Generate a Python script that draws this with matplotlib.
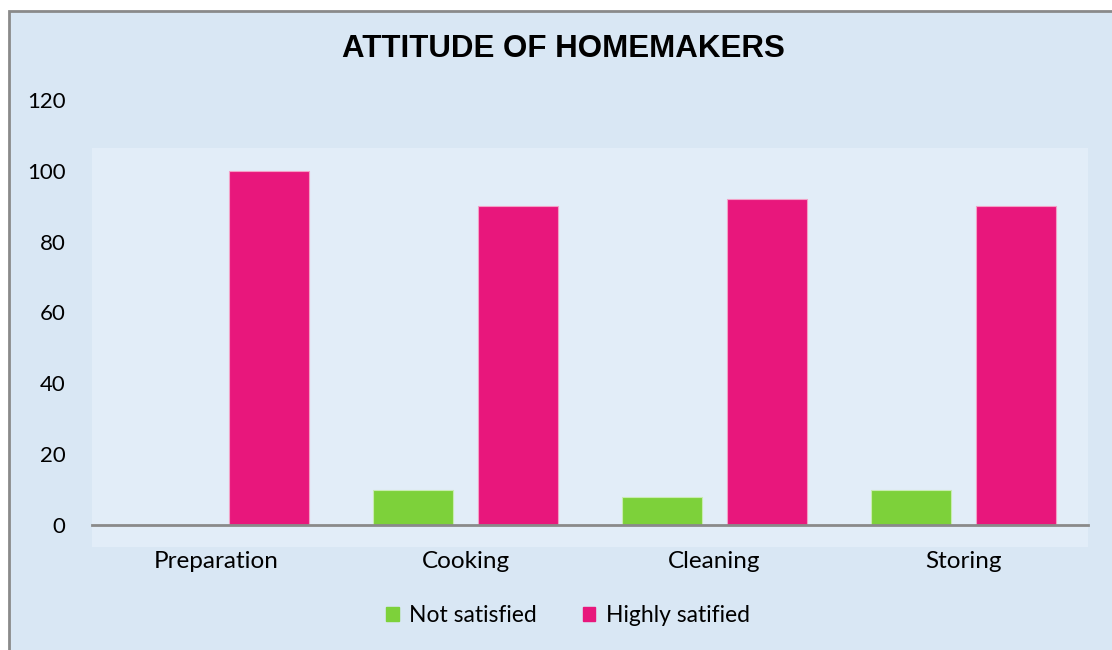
import matplotlib.pyplot as plt
import matplotlib.patches as mpatches
import numpy as np

categories = ["Preparation", "Cooking", "Cleaning", "Storing"]
not_satisfied = [0, 10, 8, 10]
highly_satisfied = [100, 90, 92, 90]
series_names = ["Not satisfied", "Highly satified"]
yticks = [0, 20, 40, 60, 80, 100, 120]

green = "#7DD13A"
pink = "#E8177C"
bg = "#d9e7f4"

plt.rcParams["font.family"] = ["Lato", "DejaVu Sans"]

fig = plt.figure(figsize=(11.12, 6.5), dpi=100)
fig.patch.set_facecolor("white")

# outer chart area with a grey frame on the left/top
W, H = 1112, 650
frame = mpatches.Rectangle((8.5 / W, -0.02), 1.1, (H - 11) / H + 0.02,
                           transform=fig.transFigure, facecolor=bg,
                           edgecolor="#8a8a8a", linewidth=2, zorder=-2)
fig.patches.append(frame)
# slightly lighter plot area
inner = mpatches.Rectangle((92 / W, (H - 547) / H), (1088 - 92) / W, (547 - 148) / H,
                           transform=fig.transFigure, facecolor="#e2edf8",
                           edgecolor="none", zorder=-1)
fig.patches.append(inner)

ax = fig.add_axes([92 / W, 125 / H, (1088 - 92) / W, 425 / H])
ax.set_zorder(1)
ax.set_facecolor("none")

x = np.arange(len(categories))
w = 0.32
off = 0.21
ax.bar(x - off, not_satisfied, w, color=green, edgecolor="#c8ecb0",
       linewidth=0.8, label=series_names[0], zorder=3)
ax.bar(x + off, highly_satisfied, w, color=pink, edgecolor="#f3a0c6",
       linewidth=0.8, label=series_names[1], zorder=3)

ax.set_xlim(-0.5, 3.5)
ax.set_ylim(0, 120)
ax.set_yticks(yticks)
ax.set_xticks(x)
ax.set_xticklabels(categories, fontsize=17.5)
ax.tick_params(axis="y", length=0, pad=19, labelsize=16)
ax.tick_params(axis="x", length=0, pad=19)
for s in ["top", "right", "left"]:
    ax.spines[s].set_visible(False)
ax.spines["bottom"].set_color("#8a8a8a")
ax.spines["bottom"].set_linewidth(2)
ax.spines["bottom"].set_zorder(4)

fig.text(563 / W, 1 - 49 / H, "ATTITUDE OF HOMEMAKERS", ha="center", va="center",
         fontsize=22.5, fontweight="bold", family=["Liberation Sans", "DejaVu Sans"])

handles = [mpatches.Patch(color=green), mpatches.Patch(color=pink)]
leg = fig.legend(handles, series_names, loc="center", bbox_to_anchor=(568 / W, 1 - 616 / H),
                 ncol=2, frameon=False, fontsize=16.5, handlelength=0.55, handleheight=0.55,
                 handletextpad=0.45, columnspacing=2.0)
leg.set_zorder(2)

fig.savefig("out.png", dpi=100, facecolor=fig.get_facecolor())
